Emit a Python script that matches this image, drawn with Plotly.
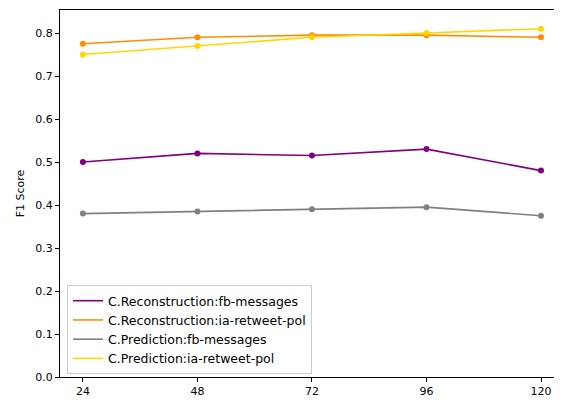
import plotly.graph_objects as go

hours = [24, 48, 72, 96, 120]
tick_labels = ["24", "48", "72", "96", "120"]
rec_fb = [0.50, 0.52, 0.515, 0.53, 0.48]
rec_ia = [0.775, 0.79, 0.795, 0.795, 0.79]
pred_fb = [0.38, 0.385, 0.39, 0.395, 0.375]
pred_ia = [0.75, 0.77, 0.79, 0.80, 0.81]

series = [
    ("C.Reconstruction:fb-messages", rec_fb, "#800080"),
    ("C.Reconstruction:ia-retweet-pol", rec_ia, "#ff8c00"),
    ("C.Prediction:fb-messages", pred_fb, "#808080"),
    ("C.Prediction:ia-retweet-pol", pred_ia, "#ffd700"),
]

fig = go.Figure()
for name, vals, col in series:
    fig.add_trace(go.Scatter(x=hours, y=vals, mode="lines+markers", name=name,
                             line=dict(color=col, width=1.6),
                             marker=dict(color=col, size=6),
                             showlegend=False))
for name, vals, col in series:
    fig.add_trace(go.Scatter(x=[None], y=[None], mode="lines", name=name,
                             line=dict(color=col, width=1.6)))

font = dict(family="DejaVu Sans", size=11, color="black")
legend_font = dict(family="DejaVu Sans", size=12.5, color="black")
# page body has an 8px default margin; figure sized/margined to compensate
fig.update_layout(
    width=554, height=392,
    margin=dict(l=52, r=0, t=2, b=23, autoexpand=False),
    plot_bgcolor="white", paper_bgcolor="white",
    font=font,
    legend=dict(x=0.014, y=0.008, xanchor="left", yanchor="bottom",
                bgcolor="rgba(255,255,255,0.8)", bordercolor="#cccccc", borderwidth=1,
                font=legend_font, tracegroupgap=0),
)
fig.update_xaxes(range=[19.2, 124.4], tickvals=hours, ticktext=tick_labels,
                 showgrid=False, zeroline=False, showline=True, linecolor="black",
                 linewidth=1, mirror=True, ticks="outside", ticklen=4,
                 tickcolor="black", tickfont=font, automargin=False)
fig.update_yaxes(range=[0, 0.8535], tickvals=[0, 0.1, 0.2, 0.3, 0.4, 0.5, 0.6, 0.7, 0.8],
                 ticktext=["0.0", "0.1", "0.2", "0.3", "0.4", "0.5", "0.6", "0.7", "0.8"],
                 showgrid=False, zeroline=False, showline=True, linecolor="black",
                 linewidth=1, mirror=True, ticks="outside", ticklen=4,
                 tickcolor="black", tickfont=font, automargin=False,
                 title=dict(text="F1 Score", font=font, standoff=8))

fig.write_html("out.html")
